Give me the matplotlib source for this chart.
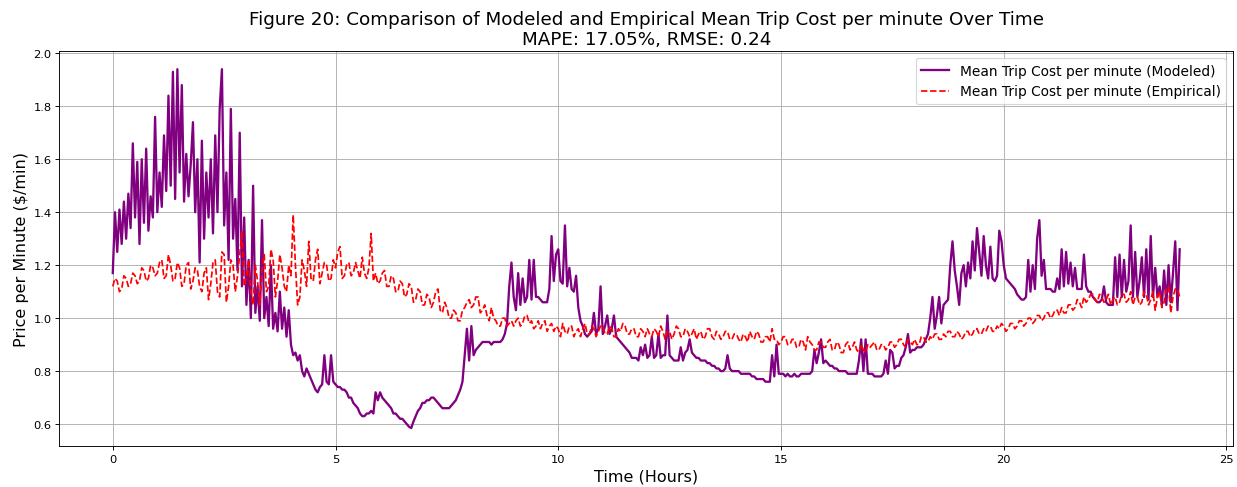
import numpy as np
import matplotlib
matplotlib.use("Agg")
import matplotlib.pyplot as plt

modeled = [
    # 0-1 h
    1.17, 1.40, 1.25, 1.41, 1.28, 1.44, 1.30, 1.47, 1.34, 1.66, 1.38, 1.59, 1.28, 1.60, 1.36, 1.64, 1.33, 1.46, 1.38, 1.76,
    # 1-2 h
    1.40, 1.55, 1.42, 1.69, 1.48, 1.84, 1.50, 1.93, 1.45, 1.94, 1.55, 1.88, 1.44, 1.62, 1.46, 1.58, 1.74, 1.40, 1.60, 1.21,
    # 2-3 h
    1.67, 1.30, 1.55, 1.38, 1.60, 1.32, 1.69, 1.40, 1.79, 1.94, 1.35, 1.55, 1.22, 1.79, 1.30, 1.45, 1.18, 1.70, 1.12, 1.38,
    # 3-4 h
    1.05, 1.22, 1.00, 1.50, 1.02, 1.12, 0.99, 1.37, 1.00, 1.08, 0.97, 1.20, 0.96, 1.02, 0.95, 1.10, 0.96, 1.04, 0.93, 1.03,
    # 4-5 h
    0.90, 0.86, 0.87, 0.84, 0.86, 0.80, 0.78, 0.81, 0.79, 0.77, 0.75, 0.73, 0.72, 0.74, 0.75, 0.86, 0.76, 0.75, 0.86, 0.76,
    # 5-6 h
    0.75, 0.74, 0.74, 0.73, 0.73, 0.72, 0.70, 0.70, 0.68, 0.67, 0.66, 0.64, 0.63, 0.63, 0.64, 0.64, 0.65, 0.64, 0.72, 0.69,
    # 6-7 h
    0.72, 0.70, 0.69, 0.68, 0.67, 0.66, 0.64, 0.64, 0.63, 0.62, 0.62, 0.61, 0.60, 0.59, 0.585, 0.61, 0.63, 0.65, 0.66, 0.68,
    # 7-8 h
    0.68, 0.69, 0.69, 0.70, 0.70, 0.69, 0.68, 0.67, 0.66, 0.66, 0.66, 0.66, 0.67, 0.68, 0.69, 0.71, 0.73, 0.76, 0.86, 0.96,
    # 8-9 h
    0.84, 0.97, 0.86, 0.88, 0.89, 0.90, 0.91, 0.91, 0.91, 0.91, 0.90, 0.91, 0.91, 0.91, 0.91, 0.92, 0.94, 0.98, 1.12, 1.21,
    # 9-10 h
    1.08, 1.03, 1.17, 1.05, 1.15, 1.06, 1.08, 1.22, 1.07, 1.22, 1.08, 1.08, 1.07, 1.06, 1.06, 1.06, 1.11, 1.31, 1.14, 1.24,
    # 10-11 h
    1.26, 1.14, 1.13, 1.35, 1.12, 1.19, 1.11, 1.10, 1.16, 1.04, 0.99, 0.97, 0.94, 0.93, 0.94, 0.95, 1.02, 0.94, 0.96, 1.12,
    # 11-12 h
    0.94, 0.97, 1.01, 0.94, 0.96, 1.01, 0.93, 0.92, 0.91, 0.90, 0.89, 0.88, 0.87, 0.85, 0.85, 0.85, 0.84, 0.89, 0.86, 0.90,
    # 12-13 h
    0.85, 0.86, 0.93, 0.85, 0.86, 0.94, 0.85, 0.86, 0.86, 1.01, 0.86, 0.85, 0.84, 0.84, 0.84, 0.89, 0.84, 0.87, 0.88, 0.92,
    # 13-14 h
    0.87, 0.86, 0.85, 0.85, 0.84, 0.84, 0.84, 0.83, 0.83, 0.82, 0.82, 0.81, 0.81, 0.80, 0.80, 0.81, 0.86, 0.81, 0.80, 0.80,
    # 14-15 h
    0.80, 0.80, 0.79, 0.79, 0.79, 0.79, 0.79, 0.78, 0.78, 0.77, 0.77, 0.77, 0.77, 0.76, 0.76, 0.76, 0.86, 0.78, 0.90, 0.79,
    # 15-16 h
    0.79, 0.79, 0.78, 0.79, 0.78, 0.78, 0.79, 0.78, 0.78, 0.79, 0.79, 0.79, 0.79, 0.79, 0.80, 0.88, 0.83, 0.87, 0.92, 0.83,
    # 16-17 h
    0.84, 0.83, 0.82, 0.82, 0.81, 0.81, 0.80, 0.80, 0.80, 0.80, 0.79, 0.79, 0.79, 0.79, 0.79, 0.84, 0.92, 0.80, 0.92, 0.79,
    # 17-18 h
    0.79, 0.79, 0.78, 0.78, 0.78, 0.78, 0.79, 0.84, 0.79, 0.88, 0.87, 0.81, 0.82, 0.82, 0.85, 0.86, 0.89, 0.94, 0.87, 0.88,
    # 18-19 h
    0.88, 0.89, 0.89, 0.89, 0.90, 0.92, 0.94, 1.00, 1.08, 0.96, 1.01, 1.08, 0.98, 1.05, 1.06, 1.07, 1.20, 1.29, 1.18, 1.12,
    # 19-20 h
    1.05, 1.17, 1.20, 1.12, 1.21, 1.15, 1.29, 1.18, 1.34, 1.25, 1.16, 1.31, 1.20, 1.15, 1.27, 1.15, 1.14, 1.16, 1.33, 1.29,
    # 20-21 h
    1.20, 1.15, 1.14, 1.13, 1.12, 1.11, 1.09, 1.08, 1.07, 1.07, 1.08, 1.22, 1.10, 1.20, 1.11, 1.30, 1.37, 1.16, 1.22, 1.11,
    # 21-22 h
    1.11, 1.11, 1.10, 1.10, 1.15, 1.11, 1.26, 1.12, 1.25, 1.13, 1.21, 1.12, 1.19, 1.11, 1.11, 1.11, 1.24, 1.12, 1.10, 1.10,
    # 22-23 h
    1.08, 1.07, 1.06, 1.06, 1.07, 1.12, 1.06, 1.05, 1.05, 1.05, 1.23, 1.08, 1.24, 1.08, 1.22, 1.10, 1.14, 1.35, 1.08, 1.25,
    # 23-24 h
    1.08, 1.14, 1.23, 1.08, 1.26, 1.07, 1.31, 1.08, 1.19, 1.08, 1.12, 1.05, 1.18, 1.05, 1.20, 1.06, 1.17, 1.29, 1.03, 1.26,
]

# Empirical mean trip cost per minute, sampled every 0.05 h
empirical = [
    # 0-1 h
    1.12, 1.15, 1.14, 1.10, 1.11, 1.16, 1.15, 1.12, 1.13, 1.17, 1.16, 1.13, 1.14, 1.19, 1.18, 1.14, 1.15, 1.20, 1.19, 1.16,
    # 1-2 h
    1.17, 1.21, 1.22, 1.15, 1.16, 1.24, 1.20, 1.14, 1.15, 1.21, 1.19, 1.12, 1.13, 1.20, 1.21, 1.11, 1.14, 1.19, 1.18, 1.12,
    # 2-3 h
    1.10, 1.17, 1.19, 1.07, 1.13, 1.21, 1.22, 1.10, 1.08, 1.25, 1.24, 1.06, 1.12, 1.22, 1.20, 1.10, 1.16, 1.24, 1.33, 1.12,
    # 3-4 h
    1.15, 1.22, 1.10, 1.05, 1.20, 1.14, 1.05, 1.18, 1.24, 1.10, 1.12, 1.26, 1.22, 1.08, 1.14, 1.24, 1.19, 1.12, 1.10, 1.20,
    # 4-5 h
    1.16, 1.39, 1.20, 1.05, 1.08, 1.22, 1.18, 1.12, 1.29, 1.15, 1.14, 1.22, 1.26, 1.13, 1.17, 1.21, 1.20, 1.14, 1.15, 1.22,
    # 5-6 h
    1.19, 1.25, 1.27, 1.15, 1.16, 1.20, 1.21, 1.16, 1.17, 1.21, 1.18, 1.15, 1.23, 1.17, 1.15, 1.19, 1.32, 1.14, 1.17, 1.13,
    # 6-7 h
    1.14, 1.17, 1.18, 1.12, 1.12, 1.16, 1.15, 1.10, 1.10, 1.14, 1.13, 1.08, 1.09, 1.13, 1.12, 1.06, 1.07, 1.11, 1.10, 1.05,
    # 7-8 h
    1.05, 1.09, 1.08, 1.04, 1.06, 1.10, 1.11, 1.03, 1.02, 1.06, 1.04, 1.00, 1.00, 1.03, 1.02, 0.99, 0.99, 1.03, 1.04, 1.06,
    # 8-9 h
    1.07, 1.04, 1.05, 1.08, 1.08, 1.02, 1.03, 1.05, 1.01, 0.99, 1.04, 1.00, 0.99, 0.97, 0.97, 1.00, 1.00, 0.97, 0.98, 0.99,
    # 9-10 h
    0.97, 0.99, 1.00, 0.97, 0.98, 1.01, 1.01, 0.98, 0.99, 0.96, 0.97, 0.99, 0.96, 0.98, 0.99, 0.95, 0.97, 0.98, 0.95, 0.97,
    # 10-11 h
    0.96, 0.93, 0.98, 0.95, 0.94, 0.97, 0.97, 0.93, 0.95, 0.96, 0.93, 0.96, 0.98, 0.94, 0.94, 0.97, 0.96, 0.93, 0.95, 0.97,
    # 11-12 h
    0.97, 0.94, 0.94, 0.97, 0.96, 0.93, 0.93, 0.96, 0.95, 0.98, 0.97, 0.94, 0.94, 0.96, 0.96, 0.93, 0.93, 0.96, 0.95, 0.93,
    # 12-13 h
    0.96, 0.94, 0.93, 0.96, 0.95, 0.93, 0.97, 0.95, 0.92, 0.95, 0.95, 0.92, 0.94, 0.97, 0.96, 0.93, 0.93, 0.96, 0.95, 0.93,
    # 13-14 h
    0.94, 0.96, 0.92, 0.94, 0.95, 0.92, 0.93, 0.96, 0.96, 0.93, 0.92, 0.95, 0.94, 0.92, 0.93, 0.95, 0.95, 0.92, 0.92, 0.94,
    # 14-15 h
    0.94, 0.92, 0.91, 0.94, 0.93, 0.91, 0.95, 0.93, 0.92, 0.95, 0.94, 0.91, 0.91, 0.93, 0.93, 0.91, 0.96, 0.92, 0.92, 0.90,
    # 15-16 h
    0.91, 0.93, 0.93, 0.90, 0.90, 0.92, 0.92, 0.89, 0.89, 0.92, 0.91, 0.88, 0.93, 0.91, 0.90, 0.88, 0.88, 0.91, 0.91, 0.89,
    # 16-17 h
    0.89, 0.91, 0.92, 0.88, 0.88, 0.91, 0.90, 0.87, 0.87, 0.90, 0.91, 0.88, 0.89, 0.91, 0.88, 0.87, 0.90, 0.88, 0.87, 0.90,
    # 17-18 h
    0.89, 0.90, 0.91, 0.88, 0.88, 0.90, 0.90, 0.88, 0.89, 0.91, 0.91, 0.89, 0.90, 0.92, 0.92, 0.90, 0.89, 0.92, 0.91, 0.90,
    # 18-19 h
    0.92, 0.90, 0.90, 0.93, 0.93, 0.91, 0.91, 0.93, 0.92, 0.94, 0.94, 0.92, 0.92, 0.94, 0.93, 0.95, 0.95, 0.93, 0.93, 0.95,
    # 19-20 h
    0.94, 0.92, 0.93, 0.95, 0.95, 0.93, 0.94, 0.96, 0.96, 0.94, 0.94, 0.96, 0.95, 0.97, 0.97, 0.95, 0.95, 0.97, 0.96, 0.98,
    # 20-21 h
    0.97, 0.95, 0.96, 0.98, 0.98, 0.96, 0.97, 0.99, 0.99, 0.97, 0.98, 1.00, 1.00, 0.98, 0.99, 1.01, 1.01, 0.99, 1.00, 1.02,
    # 21-22 h
    1.02, 1.00, 1.01, 1.03, 1.03, 1.01, 1.04, 1.02, 1.02, 1.05, 1.05, 1.03, 1.04, 1.07, 1.06, 1.04, 1.08, 1.06, 1.07, 1.09,
    # 22-23 h
    1.09, 1.07, 1.06, 1.09, 1.08, 1.06, 1.07, 1.09, 1.05, 1.07, 1.08, 1.05, 1.06, 1.09, 1.09, 1.06, 1.07, 1.10, 1.05, 1.08,
    # 23-24 h
    1.08, 1.05, 1.06, 1.10, 1.09, 1.05, 1.07, 1.10, 1.03, 1.08, 1.10, 1.04, 1.06, 1.11, 1.12, 1.02, 1.08, 1.11, 1.11, 1.08,
]

t_modeled = np.arange(len(modeled)) * 0.05
t_empirical = np.arange(len(empirical)) * 0.05

# original looks like a 15x6 figure saved at a low dpi
fig, ax = plt.subplots(figsize=(15.006, 5.915), dpi=82.5)
fig.subplots_adjust(left=0.048, right=0.996, top=0.893, bottom=0.084)

ax.plot(t_modeled, modeled, color='purple', linewidth=2,
        label='Mean Trip Cost per minute (Modeled)')
ax.plot(t_empirical, empirical, color='red', linestyle='--', linewidth=1.5,
        label='Mean Trip Cost per minute (Empirical)')

ax.set_title('Figure 20: Comparison of Modeled and Empirical Mean Trip Cost per minute Over Time\n'
             'MAPE: 17.05%, RMSE: 0.24', fontsize=16)
ax.set_xlabel('Time (Hours)', fontsize=14)
ax.set_ylabel('Price per Minute ($/min)', fontsize=14)
ax.legend(loc='upper right', fontsize=12)
ax.grid(True)

fig.savefig('out.png', dpi=82.5)
